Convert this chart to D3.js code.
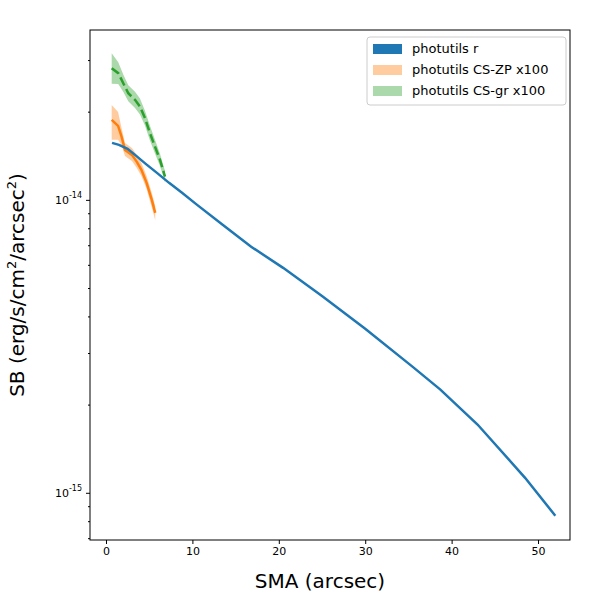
<!DOCTYPE html>
<html><head><meta charset="utf-8">
<script src="https://cdn.jsdelivr.net/npm/d3@7"></script>
<style>body{margin:0;background:#fff}text{font-family:"DejaVu Sans",sans-serif}</style>
</head><body><div id="chart"></div>
<script>
// DATA
var blueX = [0.7,1.5,2.5,3.5,4.6,5.9,7.3,8.8,10.4,13.5,16.8,20.5,25,30,35.5,38.7,43,48.5,52];
var blueY = [1.565,1.541,1.493,1.413,1.327,1.236,1.143,1.057,0.969,0.822,0.692,0.586,0.470,0.363,0.269,0.225,0.171,0.1125,0.0835];
var zpX = [0.66,1.4,1.8,2.2,3.0,3.55,4.1,4.7,5.3,5.7];
var zpY = [1.875,1.789,1.644,1.481,1.424,1.351,1.266,1.143,1.0,0.903];
var zpHi = [1.125,1.116,1.07,1.056,1.056,1.056,1.056,1.056,1.056,1.056];
var zpLo = [1.17,1.116,1.07,1.05,1.05,1.05,1.05,1.05,1.06,1.06];
var grX = [0.66,1.42,2.0,2.58,3.36,3.93,4.51,5.09,5.67,6.25,6.83];
var grY = [2.815,2.707,2.501,2.312,2.194,2.082,1.901,1.689,1.520,1.369,1.201];
var grHi = [1.125,1.09,1.07,1.065,1.065,1.065,1.06,1.06,1.055,1.05,1.045];
var grLo = [1.13,1.09,1.07,1.065,1.065,1.065,1.06,1.06,1.055,1.05,1.045];
var legendNames = ["photutils r","photutils CS-ZP x100","photutils CS-gr x100"];

var margins = {top: 30, left: 90, right: 30, bottom: 60};
var width = 600 - margins.left - margins.right;
var height = 600 - margins.top - margins.bottom;

var svg = d3.select("#chart").append("svg").attr("width", 600).attr("height", 600)
  .append("g").attr("transform", "translate(" + margins.left + "," + margins.top + ")");

var x = d3.scaleLinear().domain([-1.85, 53.7]).range([0, width]);
var y = d3.scaleLog().domain([6.9e-16, 3.8e-14]).range([height, 0]);

// Axes
var xa = svg.append("g").attr("transform", "translate(0," + height + ")")
  .call(d3.axisBottom(x).tickValues([0,10,20,30,40,50]).tickSize(4));
var major = [1e-15, 1e-14];
var minor = [];
for (var e = -16; e <= -14; e++) for (var m = 2; m < 10; m++) {
  var v = m * Math.pow(10, e);
  if (v > 6.9e-16 && v < 3.8e-14) minor.push(v);
}
svg.append("g").call(d3.axisLeft(y).tickValues(minor).tickSize(2).tickFormat(""));
var ya = svg.append("g").call(d3.axisLeft(y).tickValues(major).tickSize(4).tickFormat(""));
ya.selectAll(".tick").append("text").attr("x", -8).attr("dy", "0.32em").attr("fill", "#000")
  .attr("text-anchor", "end").attr("font-size", 11)
  .html(function(d) { return "10<tspan dy='-6' font-size='8'>" + Math.round(Math.log10(d)) + "</tspan>"; });
svg.selectAll(".domain").remove();
svg.append("rect").attr("width", width).attr("height", height).attr("fill", "none").attr("stroke", "#000");
xa.selectAll("text").attr("font-size", 11);

// Bands and lines
function series(xs, ys, hi, lo, col, dash) {
  var pts = xs.map(function(d, i) { return {x: d, y: ys[i] * 1e-14, hi: hi ? ys[i] * hi[i] * 1e-14 : 0, lo: lo ? ys[i] / lo[i] * 1e-14 : 0}; });
  if (hi) {
    svg.append("path").datum(pts).attr("fill", col).attr("fill-opacity", 0.4)
      .attr("d", d3.area().x(function(d) { return x(d.x); }).y0(function(d) { return y(d.lo); }).y1(function(d) { return y(d.hi); }));
  }
  svg.append("path").datum(pts).attr("fill", "none").attr("stroke", col).attr("stroke-width", 2.5)
    .attr("stroke-dasharray", dash || null)
    .attr("d", d3.line().x(function(d) { return x(d.x); }).y(function(d) { return y(d.y); }));
}
series(zpX, zpY, zpHi, zpLo, "#ff7f0e");
series(grX, grY, grHi, grLo, "#2ca02c", "9,4");
series(blueX, blueY, null, null, "#1f77b4");

// Labels
svg.append("text").attr("x", width / 2 - 10).attr("y", height + 48).attr("text-anchor", "middle")
  .attr("font-size", 20).text("SMA (arcsec)");
svg.append("text").attr("transform", "translate(-66," + (height / 2) + ") rotate(-90)")
  .attr("text-anchor", "middle").attr("font-size", 20)
  .html("SB (erg/s/cm<tspan dy='-8' font-size='13'>2</tspan><tspan dy='8'>/arcsec</tspan><tspan dy='-8' font-size='13'>2</tspan><tspan dy='8'>)</tspan>");

// Legend
var lg = svg.append("g").attr("transform", "translate(277,7)");
lg.append("rect").attr("width", 199).attr("height", 68).attr("rx", 3).attr("fill", "#fff")
  .attr("fill-opacity", 0.8).attr("stroke", "#ccc");
var cols = [["#1f77b4", 1], ["#ff7f0e", 0.4], ["#2ca02c", 0.4]];
legendNames.forEach(function(n, i) {
  lg.append("rect").attr("x", 6).attr("y", 7 + i * 21).attr("width", 29).attr("height", 10)
    .attr("fill", cols[i][0]).attr("fill-opacity", cols[i][1]);
  lg.append("text").attr("x", 45).attr("y", 16 + i * 21).attr("font-size", 13).text(n);
});
</script></body></html>
